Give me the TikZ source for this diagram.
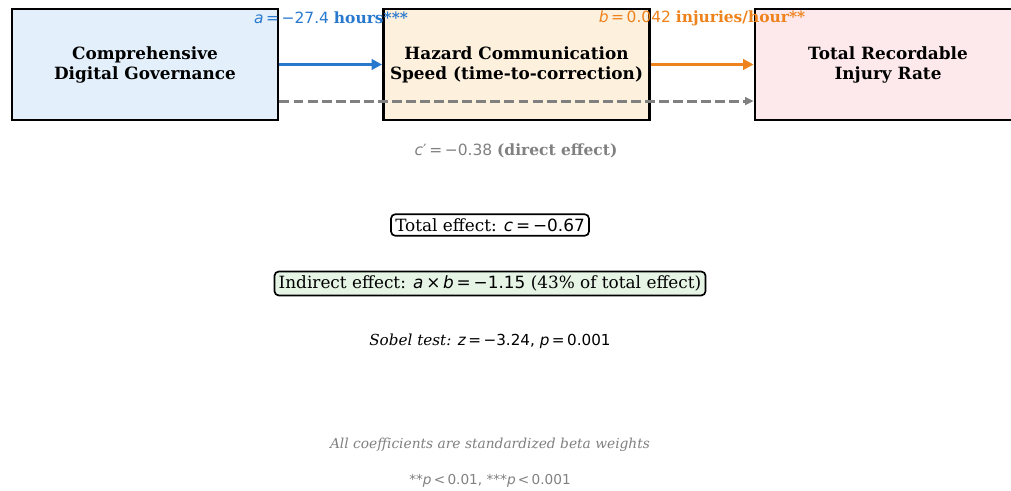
\documentclass[tikz,border=0pt]{standalone}
\usepackage{fontspec}
\setmainfont{DejaVu Serif}
\newfontfamily\dvsans{DejaVu Sans}
\usetikzlibrary{arrows.meta,positioning}

\definecolor{pathblue}{RGB}{40,121,206}
\definecolor{pathorange}{RGB}{238,130,28}
\definecolor{directgray}{RGB}{128,128,128}
\definecolor{govfill}{RGB}{227,240,252}
\definecolor{hazfill}{RGB}{253,240,221}
\definecolor{trirfill}{RGB}{253,233,236}
\definecolor{indfill}{RGB}{229,244,229}

% math-like pieces set in the sans family
\newcommand{\mi}[1]{{\dvsans\itshape #1}}
\newcommand{\mr}[1]{{\dvsans #1}}

\begin{document}
\begin{tikzpicture}[x=0.025cm, y=-0.025cm,
    varbox/.style={draw=black, line width=2pt, minimum width=6.65cm,
        minimum height=2.775cm, align=center,
        font=\fontsize{12}{14.2}\selectfont\bfseries},
    patharrow/.style={line width=2.2pt, -{Triangle[length=7.5pt,width=7.5pt]}},
    effbox/.style={draw=black, line width=1.2pt, rounded corners=3pt,
        inner xsep=3pt, inner ysep=3pt, font=\fontsize{12}{14}\selectfont},
    coeflabel/.style={font=\fontsize{11}{13}\selectfont, inner sep=0pt}]
    \useasboundingbox (0,0) rectangle (1011,491);
    \clip (0,0) rectangle (1011,491);

    % Variables
    \node[varbox, fill=govfill] (gov) at (145,64.5) {Comprehensive\\Digital Governance};
    \node[varbox, fill=hazfill] (haz) at (516.5,64.5) {Hazard Communication\\Speed (time-to-correction)};
    \node[varbox, fill=trirfill] (trir) at (888,64.5) {Total Recordable\\Injury Rate};

    % Paths a and b
    \draw[patharrow, pathblue] (gov) -- (haz);
    \draw[patharrow, pathorange] (haz) -- (trir);

    % Direct path c' (runs over the mediator)
    \draw[line width=2.1pt, directgray, dash pattern=on 7.1pt off 2.9pt,
        -{Triangle[length=6pt,width=5.5pt]}]
        ([yshift=-26pt]gov.east) -- ([yshift=-26pt]trir.west);

    % Path coefficients
    \node[coeflabel, pathblue] (alab) at (331,18)
        {\mi{a}\mr{\,=\,−27.4} \textbf{hours***}};
    \node[coeflabel, pathorange] (blab) at (702,18)
        {\mi{b}\mr{\,=\,0.042} \textbf{injuries/hour**}};
    \node[coeflabel, directgray] (clab) at (516,151)
        {\mi{c}\mr{′\,=\,−0.38} \textbf{(direct effect)}};

    % Effect summary
    \node[effbox] (total) at (490,225)
        {Total effect: \mi{c}\mr{\,=\,−0.67}};
    \node[effbox, fill=indfill] (indirect) at (490,283.5)
        {Indirect effect: \mi{a}\mr{\,×\,}\mi{b}\mr{\,=\,−1.15} (43\% of total effect)};
    \node[font=\fontsize{10.8}{13}\selectfont] (sobel) at (490,341)
        {\textit{Sobel test:} \mi{z}\mr{\,=\,−3.24,} \mi{p}\mr{\,=\,0.001}};

    % Notes
    \node[directgray, font=\fontsize{9.8}{11.5}\selectfont\itshape] (note) at (490,445)
        {All coefficients are standardized beta weights};
    \node[directgray, font=\fontsize{9.7}{11.5}\selectfont] (sig) at (490,481)
        {\mr{**}\mi{p}\mr{\,<\,0.01, ***}\mi{p}\mr{\,<\,0.001}};
\end{tikzpicture}
\end{document}
